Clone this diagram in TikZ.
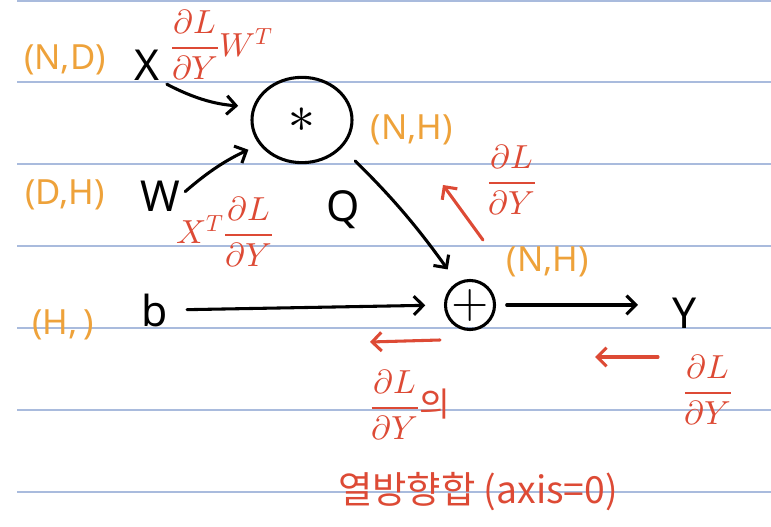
\documentclass[tikz,border=0pt]{standalone}
\usepackage{fontspec}
\usepackage{unicode-math}
\setmainfont{Noto Sans}
\setmathfont{Latin Modern Math}
\newfontfamily\kr{Noto Sans CJK KR}
\usetikzlibrary{arrows.meta,shapes.geometric}
\definecolor{ruleblue}{HTML}{A9BBDD}
\definecolor{dimorange}{HTML}{EEA23A}
\definecolor{gradred}{HTML}{DD4A35}
\begin{document}
\begin{tikzpicture}[x=0.75pt,y=-0.75pt,
  rule/.style={ruleblue, line width=0.8pt},
  dim/.style={text=dimorange, font=\fontsize{26}{30}\selectfont, inner sep=0pt},
  var/.style={font=\fontsize{32}{36}\selectfont, inner sep=0pt},
  grad/.style={text=gradred, font=\fontsize{25}{29}\selectfont, inner sep=0pt},
  flow/.style={line width=2.3pt, line cap=round, -{Straight Barb[length=7pt,width=14pt,line width=2.3pt]}},
  back/.style={gradred, line width=2.3pt, line cap=round, -{Straight Barb[length=7pt,width=14pt,line width=2.3pt]}},
  op/.style={draw, line width=2.3pt, inner sep=0pt}
]
\fill[white] (0,0) rectangle (771,527);
\useasboundingbox (0,0) rectangle (771,527);
\foreach \y in {1,82,164,246,328,410,492} \draw[rule] (17,\y) -- (771,\y);

% dimension labels
\node[dim] (dND) at (65,60) {(N,D)};
\node[dim] (dDH) at (65,195) {(D,H)};
\node[dim] (dH) at (63,325) {(H,\,)};
\node[dim] (dNH1) at (412,130) {(N,H)};
\node[dim] (dNH2) at (548,262) {(N,H)};

% variables and operators
\node[var] (X) at (147,65) {X};
\node[var] (W) at (160,196) {W};
\node[var] (b) at (155,310) {b};
\node[var] (Q) at (343,210) {Q};
\node[var] (Y) at (685,313) {Y};
\node[op, ellipse, minimum width=75pt, minimum height=64pt] (mul) at (302,120) {\fontsize{40}{44}\selectfont$*$};
\node[op, circle, minimum size=36pt] (add) at (470,305) {\fontsize{36}{40}\selectfont$+$};

% gradient labels
\node[grad] (gX) at (222,45) {$\displaystyle\frac{\partial L}{\partial Y}W^{T}$};
\node[grad] (gW) at (225,232) {$\displaystyle X^{T}\frac{\partial L}{\partial Y}$};
\node[grad] (gQ) at (512,180) {$\displaystyle\frac{\partial L}{\partial Y}$};
\node[grad] (gAdd) at (410,405) {$\displaystyle\frac{\partial L}{\partial Y}$\kr 의};
\node[grad] (gY) at (708,390) {$\displaystyle\frac{\partial L}{\partial Y}$};
\node[grad, font=\fontsize{28}{32}\selectfont] (sumtxt) at (478,492) {\kr 열방향합 (axis=0)};

% forward connectors
\draw[flow, shorten <=6pt, shorten >=11pt] (X.south east) to[bend right=12] (mul.165);
\draw[flow, shorten <=5pt, shorten >=9pt] (W.east) to[bend left=8] (mul.210);
\draw[flow, shorten <=14pt, shorten >=12pt] (mul.-35) to[bend left=5] (add.120);
\draw[flow, shorten <=14pt, shorten >=14pt] (b.east) -- (add.west);
\draw[flow, shorten <=8pt, shorten >=26pt] (add.east) -- (add.east -| Y.west);

% backward (gradient) arrows
\coordinate (r1s) at (483,240);
\coordinate (r1e) at (443,185);
\coordinate (r2s) at (440,340);
\coordinate (r2e) at (370,342);
\coordinate (r3s) at (658,357);
\coordinate (r3e) at (595,357);
\draw[back] (r1s) -- (r1e);
\draw[back] (r2s) -- (r2e);
\draw[back] (r3s) -- (r3e);
\end{tikzpicture}
\end{document}
